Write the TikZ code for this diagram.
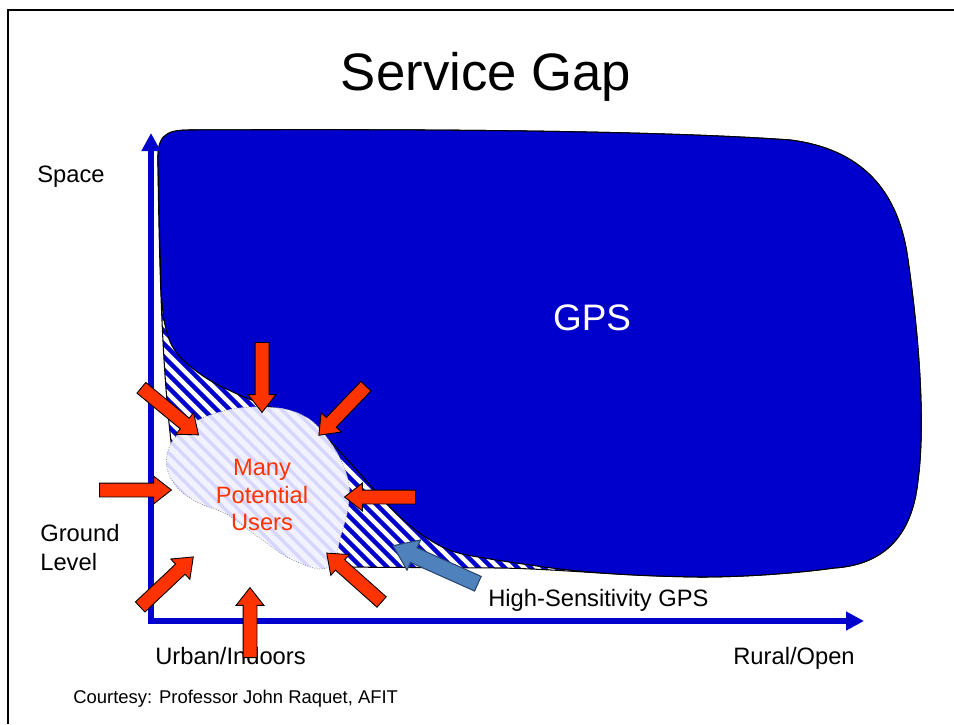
\documentclass[tikz,border=0pt]{standalone}
\usepackage{fontspec}
\setmainfont{Liberation Sans}
\usetikzlibrary{shapes.arrows,arrows.meta}
\definecolor{gpsblue}{RGB}{0,0,204}
\definecolor{userred}{RGB}{255,51,0}
\definecolor{hsblue}{RGB}{79,129,189}
\definecolor{hsedge}{RGB}{40,70,110}

% top and right rim, shared by both GPS regions
\newcommand{\gpsrim}{(158,165) .. controls (157,137) and (163,130) .. (190,130)
  .. controls (400,129) and (650,130) .. (790,140)
  .. controls (870,150) and (900,200) .. (908,260)
  .. controls (918,330) and (926,420) .. (918,480)
  .. controls (912,540) and (880,565) .. (834,568)
  .. controls (790,574) and (740,577) .. (700,577)}
\newcommand{\gpsouter}{\gpsrim .. controls (620,576) and (560,569) .. (500,568)
  -- (332,567) .. controls (280,535) and (185,480) .. (172,450)
  .. controls (166,400) and (160,330) .. (158,165) -- cycle}
\newcommand{\gpsinner}{\gpsrim .. controls (620,576) and (570,571) .. (530,565)
  -- plot[smooth, tension=0.6] coordinates {(530,565) (490,559) (455,552) (430,540)
  (400,517) (370,485) (345,457) (320,432) (295,416) (265,405) (235,393) (203,376)
  (176,352) (165,325) (161,290)} -- cycle}
\newcommand{\usersblob}{plot[smooth cycle, tension=0.7] coordinates {(263,407)
  (300,414) (325,435) (345,470) (349,500) (341,535) (329,567) (295,561) (258,537)
  (228,515) (195,501) (173,482) (167,455) (183,430) (220,412)}}

\begin{document}
\begin{tikzpicture}[
    x=0.02cm, y=-0.02cm,
    lbl/.style={font=\fontsize{13.5}{16.4}\selectfont, inner sep=0pt},
    edge/.style={draw=black, line width=0.6pt},
    hsstripe/.style={gpsblue, line width=0.09cm},
    userstripe/.style={blue!16, line width=0.07cm},
    axisline/.style={gpsblue, line width=0.11cm, line join=miter,
        >={Triangle[length=3.6mm,width=3.6mm]}, <->},
    hotarrow/.style={single arrow, draw=black, line width=0.5pt, fill=userred,
        inner sep=0.13cm, single arrow head extend=0.14cm, single arrow tip angle=76},
    hsarrow/.style={single arrow, draw=hsedge, line width=0.6pt, fill=hsblue,
        inner sep=0.15cm, single arrow head extend=0.17cm, single arrow tip angle=72}
]
    \useasboundingbox (0,0) rectangle (954,724);
    \fill[white] (0,0) rectangle (954,724);
    \draw[line width=1.3pt] (8,724) -- (8,10) -- (954,10);

    % GPS coverage with the high-sensitivity band
    \begin{scope}
        \clip \gpsouter;
        \fill[white] (100,100) rectangle (960,600);
        \foreach \c in {-440,-427,...,330}
            \draw[hsstripe] (250+\c,250) -- (650+\c,650);
    \end{scope}
    \draw[edge] \gpsouter;
    \filldraw[edge, fill=gpsblue] \gpsinner;

    % the users
    \begin{scope}
        \clip \usersblob;
        \fill[blue!5] (150,390) rectangle (360,580);
        \foreach \c in {-440,-427,...,-20}
            \draw[userstripe] (250+\c,250) -- (650+\c,650);
    \end{scope}
    \draw[gray, densely dotted, line width=0.4pt] \usersblob;

    % Axes
    \coordinate (ytip) at (151,133);
    \coordinate (origin) at (151,621);
    \coordinate (xtip) at (864,621);
    \draw[axisline] (ytip) -- (origin) -- (xtip);

    % Labels
    \node[font=\fontsize{30}{36}\selectfont, inner sep=0pt, anchor=base] (title) at (486,90) {Service Gap};
    \node[lbl, anchor=base west] (space) at (37,182) {Space};
    \node[lbl, anchor=base west, align=left] (ground) at (40,570) {Ground\\Level};
    \node[font=\fontsize{21}{25}\selectfont, inner sep=0pt, text=white] (gps) at (592,318) {GPS};
    \node[lbl, text=userred, align=center, font=\fontsize{13.5}{15.9}\selectfont] (users) at (262,495) {Many\\Potential\\Users};
    \node[lbl, anchor=base west] (hsgps) at (488,606) {High-Sensitivity GPS};
    \node[lbl, anchor=base west] (urban) at (155,664) {Urban/Indoors};
    \node[lbl, anchor=base east] (rural) at (855,664) {Rural/Open};
    \node[font=\fontsize{10.5}{12}\selectfont, inner sep=0pt, anchor=base west] (credit) at (73,703) {Courtesy: Professor John Raquet, AFIT};

    % Arrows
    \node[hotarrow, minimum height=1.40cm, rotate=-90] (arrn) at (262,373) {};
    \node[hotarrow, minimum height=1.48cm, rotate=-39.5] (arrnw) at (166.5,408.5) {};
    \node[hotarrow, minimum height=1.36cm, rotate=-133.8] (arrne) at (345.5,407.5) {};
    \node[hotarrow, minimum height=1.44cm] (arrw) at (131,490) {};
    \node[hotarrow, minimum height=1.42cm, rotate=180] (arre) at (384.5,497) {};
    \node[hotarrow, minimum height=1.47cm, rotate=138.3] (arrse) at (357.5,580.5) {};
    \node[hotarrow, minimum height=1.46cm, rotate=43.3] (arrsw) at (163.5,585) {};
    \node[hotarrow, minimum height=1.40cm, rotate=90] (arrs) at (250,627) {};
    \node[hsarrow, minimum height=1.86cm, rotate=155.9] (arrhs) at (440.5,567) {};

\end{tikzpicture}
\end{document}
